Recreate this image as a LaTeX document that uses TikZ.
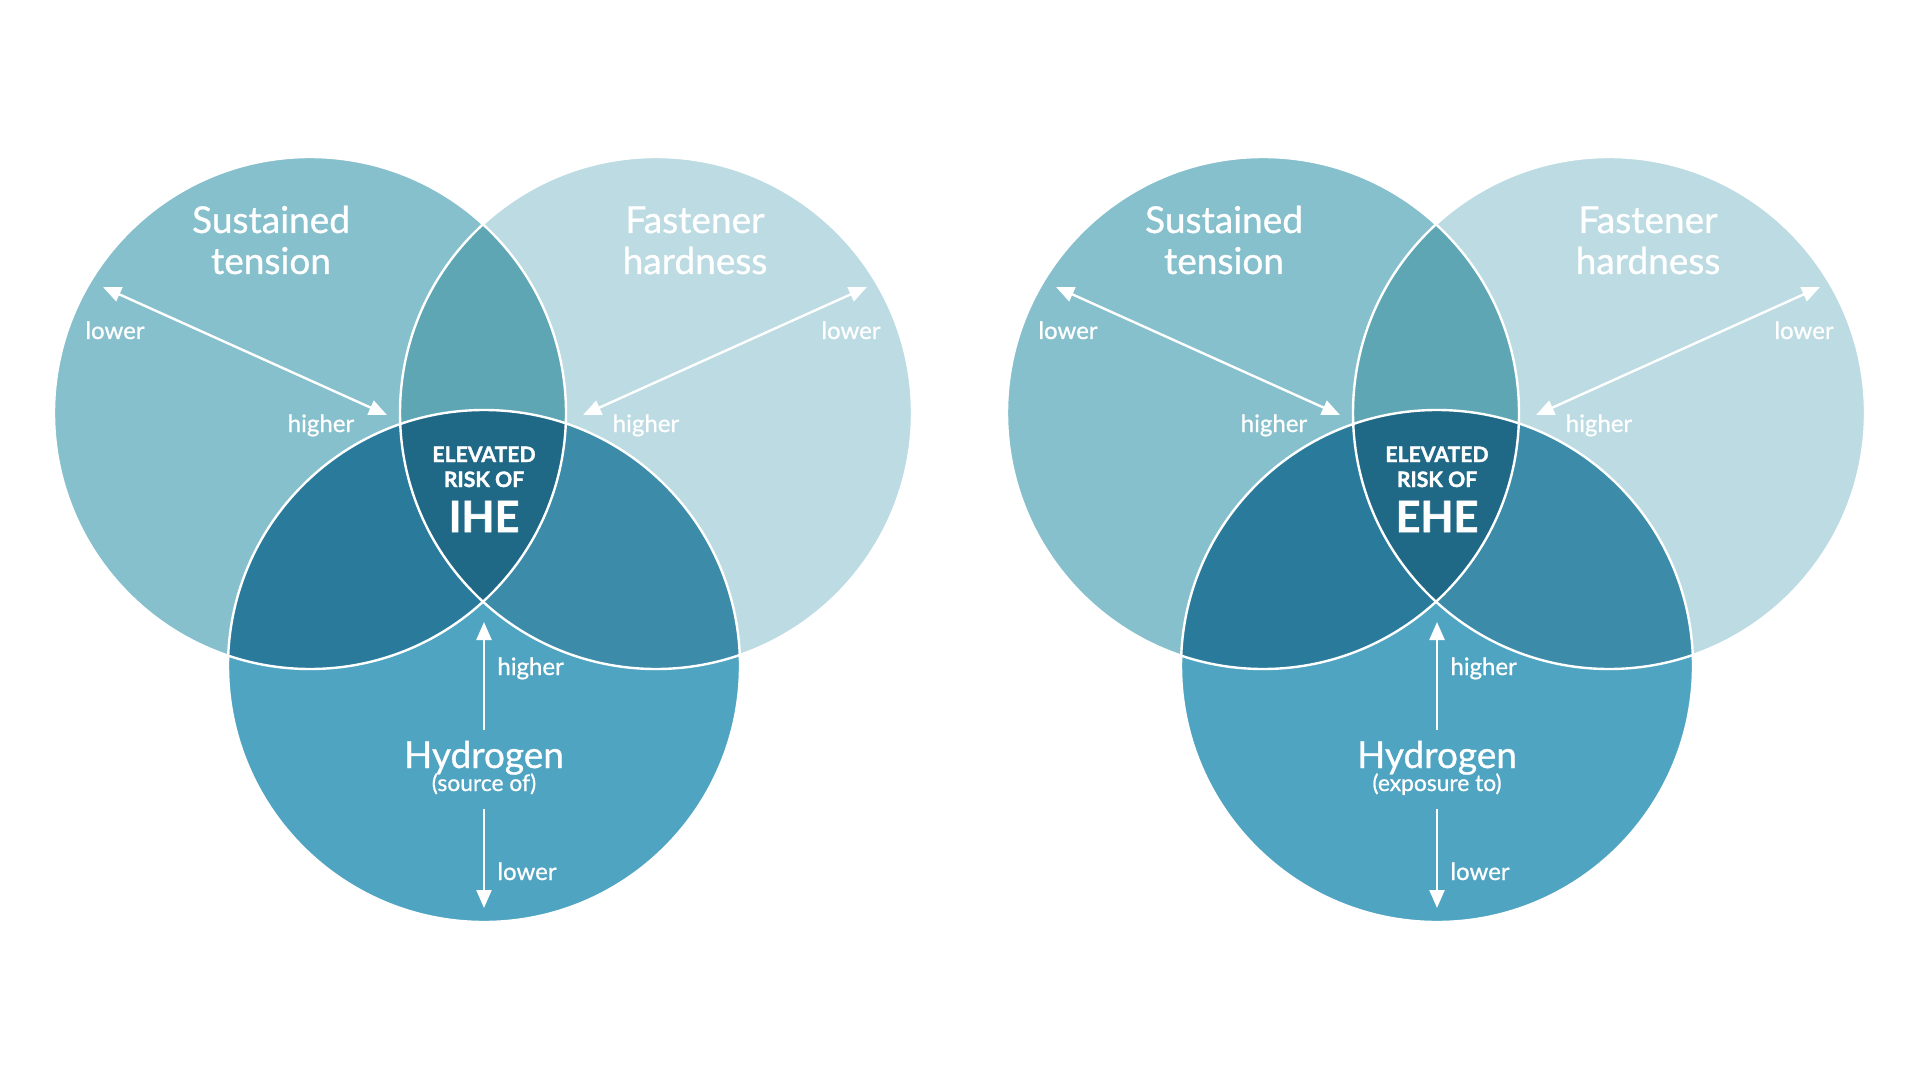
\documentclass[tikz,border=0pt]{standalone}
\usepackage{fontspec}
\setmainfont{Lato}
\newfontfamily\medfont{Lato}[FakeBold=0.8]
\newfontfamily\heavyfont{Lato Bold}[FakeBold=1.6]
\usetikzlibrary{arrows.meta}
\definecolor{tensioncol}{HTML}{86C0CD}
\definecolor{hardcol}{HTML}{BCDBE2}
\definecolor{hydrocol}{HTML}{4FA4C2}
\definecolor{thcol}{HTML}{5FA6B4}
\definecolor{tycol}{HTML}{2A7B9B}
\definecolor{hycol}{HTML}{3B8BA9}
\definecolor{riskcol}{HTML}{1F6886}
\tikzset{
  title/.style={text=white,inner sep=0pt,anchor=base,font=\medfont\fontsize{18.5}{20}\selectfont},
  sub/.style={text=white,inner sep=0pt,anchor=base,font=\medfont\fontsize{11.4}{13}\selectfont},
  lvl/.style={text=white,inner sep=0pt,anchor=base,font=\medfont\fontsize{12}{14}\selectfont},
  caps/.style={text=white,inner sep=0pt,anchor=base,font=\heavyfont\fontsize{10.6}{13}\selectfont},
  big/.style={text=white,inner sep=0pt,anchor=base,font=\heavyfont\fontsize{21.5}{26}\selectfont},
  ring/.style={draw=white,line width=1.2pt},
  dblarrow/.style={white,line width=1.2pt,{Triangle[length=9pt,width=7.5pt]}-{Triangle[length=9pt,width=7.5pt]}},
  onearrow/.style={white,line width=1.2pt,-{Triangle[length=9pt,width=7.5pt]}}
}
\begin{document}
\begin{tikzpicture}[x=0.5pt,y=-0.5pt]
\useasboundingbox (0,0) rectangle (1920,1080);
\foreach \dx/\risk/\src in {0/IHE/source of,953/EHE/exposure to}{
\begin{scope}[shift={(\dx,0)}]
% three circles
\fill[tensioncol] (310,413) circle[radius=256];
\fill[hardcol] (656,413) circle[radius=256];
\fill[hydrocol] (484,666) circle[radius=256];
\begin{scope}
\clip (656,413) circle[radius=256];
\fill[hycol] (484,666) circle[radius=256];
\end{scope}
\begin{scope}
\clip (310,413) circle[radius=256];
\fill[thcol] (656,413) circle[radius=256];
\fill[tycol] (484,666) circle[radius=256];
\clip (656,413) circle[radius=256];
\fill[riskcol] (484,666) circle[radius=256];
\end{scope}
\draw[ring] (310,413) circle[radius=256];
\draw[ring] (656,413) circle[radius=256];
\draw[ring] (484,666) circle[radius=256];
% texts
\node[title] (sus\risk) at (271,233) {Sustained};
\node[title] (ten\risk) at (271,274) {tension};
\node[title] (fas\risk) at (695,233) {Fastener};
\node[title] (har\risk) at (695,274) {hardness};
\node[title] (hyd\risk) at (484,768) {Hydrogen};
\node[sub] (src\risk) at (484,791) {(\src)};
\node[caps] (ele\risk) at (484,462) {ELEVATED};
\node[caps] (rsk\risk) at (484,487) {RISK OF};
\node[big] (abb\risk) at (484,532) {\risk};
\node[lvl] (tlo\risk) at (115,339) {lower};
\node[lvl] (thi\risk) at (321,432) {higher};
\node[lvl] (flo\risk) at (851,339) {lower};
\node[lvl] (fhi\risk) at (646,432) {higher};
\node[lvl,anchor=base west] (hhi\risk) at (497,675) {higher};
\node[lvl,anchor=base west] (hlo\risk) at (497,880) {lower};
% arrows
\coordinate (tA\risk) at (103,287);
\coordinate (tB\risk) at (387,415);
\coordinate (fA\risk) at (867,287);
\coordinate (fB\risk) at (583,415);
\coordinate (hU\risk) at (484,730);
\coordinate (hUt\risk) at (484,622);
\coordinate (hD\risk) at (484,809);
\coordinate (hDt\risk) at (484,908);
\draw[dblarrow] (tA\risk) -- (tB\risk);
\draw[dblarrow] (fA\risk) -- (fB\risk);
\draw[onearrow] (hU\risk) -- (hUt\risk);
\draw[onearrow] (hD\risk) -- (hDt\risk);
\end{scope}
}
\end{tikzpicture}
\end{document}
